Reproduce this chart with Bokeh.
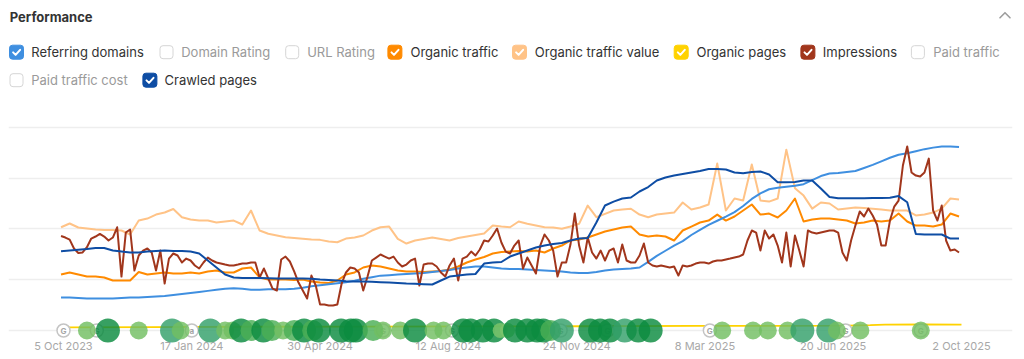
import pandas as pd
from bokeh.plotting import figure
from bokeh.layouts import column
from bokeh.models import Range1d, FixedTicker
from bokeh.core.properties import value
from bokeh.embed import file_html
from bokeh.resources import INLINE

FONT = value("Inter")

# ---------------- data ----------------
weekly_dates = pd.date_range("2023-10-03", periods=105, freq="7D")
halfweek_dates = pd.date_range("2023-10-03", periods=209, freq="84h")

referring_domains = [
    32.5, 32.5, 32, 31.5, 31.5, 31.5, 31.5, 32, 32.5, 32.5,
    33, 33.5, 34, 35, 36, 37, 38, 39, 40, 41,
    41.5, 41, 40, 40, 40.5, 40.5, 40.5, 41, 42, 43.5,
    44.5, 45.5, 46.5, 47.5, 49, 51, 52.5, 54, 54.5, 55,
    55.5, 56, 56.5, 57.5, 58.5, 59.5, 61, 62, 63, 63,
    62, 61, 60.5, 60.5, 60, 59.5, 59, 58.5, 58, 57,
    56.5, 56.5, 57.5, 59, 60, 60.5, 61, 62, 67.5, 73.5,
    78.5, 83.5, 88, 94, 99, 104, 108, 112, 116.5, 122.5,
    129.5, 135, 139, 140.5, 141.5, 142.5, 144, 148, 152, 154.5,
    155, 156, 157, 160, 163, 166.5, 170, 173, 174.5, 176.5,
    178.5, 180, 181, 181, 180.5]

crawled_pages = [
    78, 78.7, 79.4, 80.2, 81.2, 81.2, 78.7, 77.7, 76.8, 76.8,
    77.7, 78.2, 78.7, 78.2, 78.2, 77.7, 75.8, 68.9, 62, 55.1,
    52.2, 51.7, 51.7, 51.7, 51.5, 51.2, 51.2, 51.2, 51.2, 50.9,
    50.2, 49.7, 49.2, 48.5, 48.2, 48.2, 47.9, 47.5, 47.2, 46.7,
    46.2, 46, 45.6, 45.3, 49.2, 53.1, 54.1, 55.1, 55.6, 65.9,
    66.9, 67.4, 72.8, 75.8, 78.7, 81.7, 83.6, 85.1, 86.1, 88.6,
    90.5, 91, 106.3, 123, 126.9, 129.9, 130.9, 136.8, 141.2, 147.6,
    150.6, 152.5, 154, 155.5, 157, 158.9, 158.9, 158.4, 155.5, 154.8,
    156, 156.5, 153.5, 145.9, 145.9, 146.1, 147.6, 147.6, 139.7, 131.4,
    130.2, 130.2, 130.2, 130.2, 130.4, 130.4, 130.6, 132.3, 126.2, 95,
    94.5, 94.5, 94.5, 90.5, 90.5]

organic_traffic = [
    55.1, 57.1, 55.1, 53.1, 53.1, 52.2, 49.2, 49.2, 49.2, 57.6,
    55.1, 56.1, 57.1, 56.1, 56.1, 57.1, 56.1, 58.1, 59, 57.1,
    57.1, 61, 62, 52.2, 50.2, 50.2, 50.2, 49.7, 50.2, 48.2,
    47.2, 46.7, 49.2, 55.1, 57.1, 62, 64, 63, 61, 59,
    58.1, 58.1, 57.6, 58.1, 58.5, 60, 63, 66.9, 69.9, 72.3,
    75.8, 77.2, 77.7, 78.2, 77.7, 78.7, 76.8, 80.7, 83.6, 88.6,
    89.5, 91.5, 94.5, 97.4, 99.4, 101.4, 102.3, 94.5, 92.5, 93.5,
    92.5, 88.6, 98.4, 102.3, 106.3, 108.2, 114.1, 108.2, 112.2, 118.1,
    124, 114.1, 115.1, 111.2, 118.1, 129.9, 107.3, 109.2, 110.2, 110.2,
    109.2, 108.2, 105.3, 106.3, 108.2, 107.3, 108.2, 115.1, 107.3, 103.3,
    103.3, 102.3, 104.3, 115.1, 112.2]

organic_traffic_value = [
    101.6, 105.3, 101.4, 100.4, 99.4, 98.9, 98.9, 98.4, 94.5, 108.2,
    110.2, 114.1, 116.1, 119.6, 111.5, 109.2, 108.2, 108.2, 106.3, 107.3,
    108.2, 104.3, 118.1, 98.4, 95.2, 93.5, 91.8, 91, 90.2, 89.5,
    89.2, 87.6, 86.9, 90.5, 91.5, 93.5, 98.4, 101.6, 102.3, 90.2,
    85.6, 88.6, 90, 91.5, 90, 88.6, 91, 92.5, 94, 95.4,
    103.3, 102.3, 101.6, 107.3, 105, 103.3, 101.6, 101.4, 100.1, 102.3,
    105, 123, 111.5, 114.8, 118.1, 119.1, 119.8, 114.1, 111.5, 114.1,
    115.1, 116.1, 126, 119.1, 121, 124, 164.3, 118.1, 129.9, 127.9,
    163.3, 127.9, 126.9, 129.9, 178, 140, 132.8, 120, 126, 125,
    119.1, 120, 121, 120.5, 119.8, 119.1, 118.1, 118.1, 118.1, 113.2,
    114.1, 116.1, 120, 129.9, 128.9]

impressions = [
    93, 91.5, 89.5, 80.7, 76.3, 76.8, 82, 90.5, 92.5, 95,
    92.5, 88.6, 91.5, 101.6, 53.1, 96.4, 99.4, 59, 73.8, 78.7,
    80.7, 76.8, 59, 78.7, 46.2, 70.8, 75.8, 73.8, 66.9, 70.8,
    68.9, 64, 61, 66.9, 71.8, 68.9, 66.9, 65.9, 64.9, 64,
    64, 64.9, 65.9, 65.9, 66.9, 66.9, 52.2, 61, 51.2, 41.3,
    39.4, 69.9, 72.8, 67.9, 58.1, 47.2, 39.4, 31.5, 54.1, 44.3,
    25.6, 25.6, 24.6, 24.6, 25.6, 46.2, 57.1, 62, 61, 57.1,
    39.4, 53.1, 68.9, 71.8, 74.8, 72.8, 70.8, 72.8, 66.9, 63,
    64.9, 68.9, 70.8, 44.3, 64.9, 65.9, 65.9, 63, 57.1, 53.1,
    64, 70.8, 49.2, 70.8, 72.8, 77.7, 73.8, 79.7, 88.6, 87.6,
    93.5, 100.4, 86.6, 77.7, 75.8, 83.6, 88.6, 61, 71.8, 64,
    56.1, 83.6, 94.5, 88.6, 78.7, 53.1, 66.9, 66.9, 84.6, 115.1,
    83.6, 66.9, 91.5, 76.8, 70.8, 78.7, 68.9, 78.7, 80.7, 66.9,
    84.6, 68.9, 66.9, 66.9, 73.8, 85.6, 66.9, 64, 63, 64,
    63, 62, 63, 54.1, 64, 63, 64, 65.9, 66.9, 66.9,
    65.9, 67.9, 68.9, 68.9, 69.9, 70.8, 71.8, 72.8, 74.8, 88.6,
    98.4, 96.4, 78.7, 98.4, 90.5, 94.5, 83.6, 66.9, 96.4, 63,
    93.5, 78.7, 63, 98.4, 96.4, 95.4, 96.4, 97.4, 98.4, 98.4,
    96.4, 76.8, 68.9, 88.6, 103.3, 117.1, 112.2, 120, 113.2, 104.3,
    83.6, 83.6, 108.2, 122, 127.9, 162.4, 181.1, 155.5, 152.5, 151.5,
    155.5, 169.2, 118.1, 108.2, 123, 88.6, 78.7, 79.7, 76.8]

organic_pages_dates = ["2023-10-09", "2023-12-15", "2024-03-01", "2024-06-01",
                       "2024-09-01", "2024-12-01", "2025-03-01", "2025-05-15",
                       "2025-07-01", "2025-07-20", "2025-08-01", "2025-09-01",
                       "2025-10-02"]
organic_pages = [3.0, 3.4, 3.7, 3.9, 4.0, 4.2, 4.5, 4.6, 4.7, 5.3, 5.8, 5.9, 5.8]

event_dates = [
    "2023-10-24", "2023-11-10", "2023-12-05", "2024-01-01", "2024-01-08",
    "2024-02-01", "2024-02-13", "2024-02-19", "2024-02-26", "2024-03-05",
    "2024-03-15", "2024-03-22", "2024-03-31", "2024-04-09", "2024-04-17",
    "2024-04-24", "2024-04-29", "2024-05-17", "2024-05-25", "2024-05-29",
    "2024-06-12", "2024-06-20", "2024-07-04", "2024-07-16", "2024-07-31",
    "2024-08-08", "2024-08-24", "2024-08-30", "2024-09-09", "2024-09-18",
    "2024-09-23", "2024-09-29", "2024-10-05", "2024-10-15", "2024-10-23",
    "2024-10-28", "2024-11-03", "2024-11-12", "2024-12-05", "2024-12-13",
    "2024-12-21", "2025-01-02", "2025-01-13", "2025-01-23", "2025-03-22",
    "2025-04-16", "2025-04-28", "2025-05-14", "2025-05-26", "2025-06-16",
    "2025-06-23", "2025-07-12", "2025-08-30"]
event_kind = [
    "light", "dark", "light", "teal", "light",
    "teal", "light", "light", "dark", "medium",
    "dark", "medium", "light", "medium", "dark",
    "medium", "dark", "dark", "dark", "dark",
    "medium", "light", "light", "dark", "light",
    "light", "dark", "dark", "dark", "dark",
    "small", "small", "dark", "dark", "dark",
    "dark", "medium", "teal", "dark", "dark",
    "dark", "teal", "dark", "dark", "light",
    "light", "light", "light", "teal", "teal",
    "light", "light", "light"]

update_dates = ["2023-10-05", "2023-11-01", "2024-01-17", "2024-06-20", "2024-08-15",
                "2024-11-11", "2024-12-19", "2025-03-12", "2025-06-30", "2025-08-30"]
update_letters = ["G", "G", "a", "G", "G", "G", "G", "G", "G", "G"]

tick_dates = ["2023-10-05", "2024-01-17", "2024-04-30", "2024-08-12",
              "2024-11-24", "2025-03-08", "2025-06-20", "2025-10-02"]
tick_labels = ["5 Oct 2023", "17 Jan 2024", "30 Apr 2024", "12 Aug 2024",
               "24 Nov 2024", "8 Mar 2025", "20 Jun 2025", "2 Oct 2025"]

legend_labels = ["Referring domains", "Domain Rating", "URL Rating", "Organic traffic",
                 "Organic traffic value", "Organic pages", "Impressions", "Paid traffic",
                 "Paid traffic cost", "Crawled pages"]
legend_checked = [True, False, False, True, True, True, True, False, False, True]

# ---------------- styles / layout ----------------
C_RD = "#3F8FE0"
C_CP = "#0E4DA4"
C_OT = "#FF8A00"
C_OTV = "#FFC387"
C_OP = "#FFD200"
C_IMP = "#A1361C"
legend_colors = [C_RD, None, None, C_OT, C_OTV, C_OP, C_IMP, None, None, C_CP]
legend_box_x = [16, 166, 291.7, 394.4, 519, 680.7, 807.4, 917.4, 16, 149.4]
legend_text_x = [30.7, 180.7, 306.7, 410, 534.3, 696, 822.3, 932.7, 30.7, 164]
legend_row_y = [51.7] * 8 + [79.7] * 2

kind_color = {"light": "#72BE62", "medium": "#4BAE55", "dark": "#0B8B3F",
              "teal": "#33A06A", "small": "#7CC46C"}
kind_size = {"light": 18, "medium": 21, "dark": 24, "teal": 24, "small": 15}

W = 1016
HDR_H = 108
MAIN_H = 247
FL, FR = 8, 1012   # frame left / right in page pixels

# ---------------- header ----------------
hdr = figure(width=W, height=HDR_H, x_range=Range1d(FL, FR), y_range=Range1d(HDR_H, 0),
             toolbar_location=None, output_backend="svg", min_border=0,
             min_border_left=FL, min_border_right=W - FR,
             x_axis_location=None, y_axis_location=None)
hdr.grid.visible = False
hdr.outline_line_color = None

hdr.text(x=[9.3], y=[16.3], text=["Performance"], text_font=FONT, text_font_size="13px",
         text_font_style="bold", text_color="#333333", text_baseline="middle",
         text_align="left")
hdr.line(x=[999.5, 1004.5, 1009.5], y=[17.3, 12.2, 17.3], line_color="#9e9e9e",
         line_width=1.6, line_join="round", line_cap="round")

for lab, chk, col, bx, tx, ry in zip(legend_labels, legend_checked, legend_colors,
                                     legend_box_x, legend_text_x, legend_row_y):
    if chk:
        hdr.quad(left=[bx - 7], right=[bx + 7], top=[ry - 7], bottom=[ry + 7],
                 fill_color=col, line_color=col, border_radius=3)
        hdr.line(x=[bx - 3.4, bx - 0.9, bx + 3.6], y=[ry + 0.2, ry + 2.7, ry - 2.4],
                 line_color="white", line_width=2, line_join="round", line_cap="round")
        tcol = "#333333"
    else:
        hdr.quad(left=[bx - 6.5], right=[bx + 6.5], top=[ry - 6.5], bottom=[ry + 6.5],
                 fill_color="white", line_color="#d6d6d6", line_width=1, border_radius=3)
        tcol = "#9a9a9a"
    hdr.text(x=[tx], y=[ry], text=[lab], text_font=FONT, text_font_size="13px",
             text_color=tcol, text_baseline="middle", text_align="left")

# ---------------- main chart ----------------
origin = pd.Timestamp("2023-10-05")
origin_px = 63
px_per_day = 1.2335
x_start = origin - pd.Timedelta(days=(origin_px - FL) / px_per_day)
x_end = origin + pd.Timedelta(days=(FR - origin_px) / px_per_day)
px_per_unit = 1.016
y_top = (330 - HDR_H) / px_per_unit
y_bot = -(HDR_H + MAIN_H - 330) / px_per_unit

p = figure(width=W, height=MAIN_H, x_axis_type="datetime",
           x_range=Range1d(x_start, x_end), y_range=Range1d(y_bot, y_top),
           toolbar_location=None, output_backend="svg", min_border=0,
           min_border_left=FL, min_border_right=W - FR,
           x_axis_location=None, y_axis_location=None)
p.outline_line_color = None
p.xgrid.visible = False
p.ygrid.ticker = FixedTicker(ticks=[0, 50, 100, 150, 200])
p.ygrid.grid_line_color = "#eeeeee"
p.ygrid.grid_line_width = 1.6

p.line(weekly_dates, organic_traffic_value, line_color=C_OTV, line_width=2, line_join="round")
p.line(weekly_dates, organic_traffic, line_color=C_OT, line_width=2, line_join="round")
p.line(weekly_dates, referring_domains, line_color=C_RD, line_width=2, line_join="round")
p.line(halfweek_dates, impressions, line_color=C_IMP, line_width=2, line_join="round")
p.line(weekly_dates, crawled_pages, line_color=C_CP, line_width=2, line_join="round")
p.line(pd.to_datetime(organic_pages_dates), organic_pages, line_color=C_OP, line_width=1.8)

p.text(x=pd.to_datetime(tick_dates), y=[-14.8] * len(tick_dates), text=tick_labels,
       text_font=FONT, text_font_size="11px", text_color="#a8a8a8",
       text_align="center", text_baseline="middle")

upd_x = pd.to_datetime(update_dates)
p.scatter(upd_x, [0] * len(update_dates), size=13, marker="circle",
          fill_color="white", line_color="#c4c4c4", line_width=1.5)
p.text(x=upd_x, y=[0] * len(update_dates), text=update_letters, text_font=FONT,
       text_font_size="8px", text_font_style="bold", text_color="#a6a6a6",
       text_align="center", text_baseline="middle")

ev_x = pd.to_datetime(event_dates)
p.scatter(ev_x, [0] * len(event_dates), marker="circle",
          size=[kind_size[k] for k in event_kind],
          fill_color=[kind_color[k] for k in event_kind],
          fill_alpha=0.82, line_color=None)

layout = column(hdr, p, spacing=0)
open("out.html", "w").write(file_html(layout, INLINE))
